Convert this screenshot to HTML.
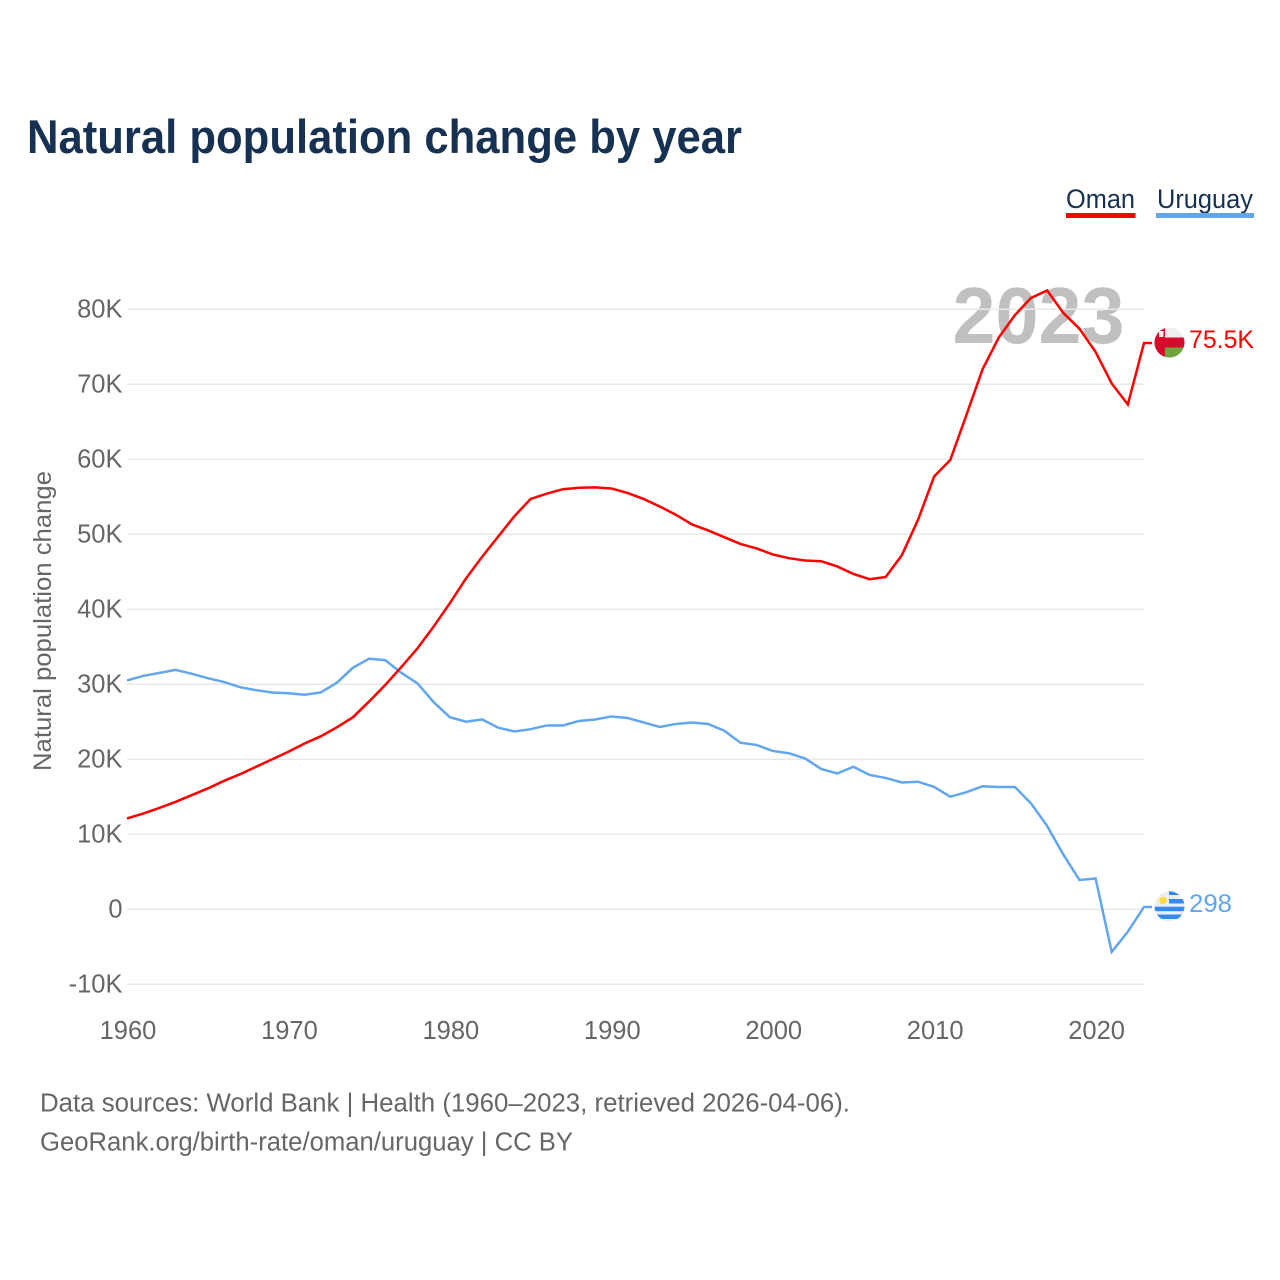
<!DOCTYPE html>
<html lang="en">
<head>
<meta charset="utf-8">
<title>Natural population change by year</title>
<style>
html,body{margin:0;padding:0;background:#fff;width:1280px;height:1280px;overflow:hidden}
svg{display:block}
text{font-family:"Liberation Sans",sans-serif}
</style>
</head>
<body>
<svg id="chart" xmlns="http://www.w3.org/2000/svg" width="1280" height="1280" viewBox="0 0 1280 1280">
  <defs>
    <clipPath id="oman-clip"><circle cx="1169.5" cy="342.5" r="15"/></clipPath>
    <clipPath id="uruguay-clip"><circle cx="1169.5" cy="906.3" r="15"/></clipPath>
  </defs>
  <text x="27" y="153" font-size="47" font-weight="700" fill="#173153" textLength="715" lengthAdjust="spacingAndGlyphs">Natural population change by year</text>

  <g>
    <text x="1066" y="208" font-size="27" fill="#173153" textLength="69" lengthAdjust="spacingAndGlyphs">Oman</text>
    <rect x="1066" y="213" width="69.5" height="5" fill="#ff0000"/>
  </g>
  <g>
    <text x="1157" y="208" font-size="27" fill="#173153" textLength="96" lengthAdjust="spacingAndGlyphs">Uruguay</text>
    <rect x="1156" y="213" width="98" height="5" fill="#62a6ee"/>
  </g>

  <text transform="translate(51,771) rotate(-90)" font-size="25" fill="#666666" textLength="300" lengthAdjust="spacingAndGlyphs">Natural population change</text>

  <text x="1038.5" y="343" font-size="80" font-weight="700" fill="#c0c0c0" text-anchor="middle" textLength="172" lengthAdjust="spacingAndGlyphs">2023</text>

  <g id="grid"></g>
  <g id="y-ticks"></g>
  <g id="x-ticks"></g>

  <g id="series"></g>

  <g clip-path="url(#oman-clip)">
    <rect x="1154" y="327" width="31" height="31" fill="#eeeeee"/>
    <rect x="1154" y="337.5" width="31" height="10" fill="#d60a2b"/>
    <rect x="1154" y="347.5" width="31" height="11" fill="#6fa53f"/>
    <rect x="1154" y="327" width="11" height="31" fill="#d60a2b"/>
    <rect x="1159" y="331" width="4.5" height="6" fill="#eeeeee"/>
  </g>
  <text x="1189" y="348" font-size="25" fill="#ff0000" textLength="65" lengthAdjust="spacingAndGlyphs">75.5K</text>

  <g clip-path="url(#uruguay-clip)">
    <rect x="1154" y="890" width="31" height="32" fill="#eeeeee"/>
    <rect x="1169" y="891" width="16" height="4" fill="#338af3"/>
    <rect x="1169" y="899" width="16" height="4.5" fill="#338af3"/>
    <rect x="1154" y="906.7" width="31" height="4.5" fill="#338af3"/>
    <rect x="1154" y="914.5" width="31" height="4.5" fill="#338af3"/>
    <circle cx="1163" cy="900.5" r="3.8" fill="#ffda44"/>
  </g>
  <text x="1189" y="912" font-size="25" fill="#62a6ee" textLength="43" lengthAdjust="spacingAndGlyphs">298</text>

  <text x="40" y="1111.5" font-size="25.5" fill="#666666" textLength="810" lengthAdjust="spacingAndGlyphs">Data sources: World Bank | Health (1960–2023, retrieved 2026-04-06).</text>
  <text x="40" y="1150.5" font-size="25.5" fill="#666666" textLength="533" lengthAdjust="spacingAndGlyphs">GeoRank.org/birth-rate/oman/uruguay | CC BY</text>
</svg>
<script>
const startYear = 1960;
const omanValues = [12.1,12.75,13.5,14.3,15.2,16.1,17.1,18.0,19.0,20.0,21.0,22.1,23.05,24.25,25.6,27.7,29.9,32.3,34.8,37.7,40.8,44.1,47.0,49.7,52.4,54.7,55.4,56.0,56.2,56.25,56.1,55.5,54.7,53.7,52.6,51.3,50.5,49.6,48.7,48.1,47.3,46.8,46.5,46.4,45.7,44.7,44.0,44.3,47.2,51.9,57.7,59.9,65.9,72.0,76.2,79.2,81.5,82.5,79.5,77.4,74.3,70.1,67.3,75.5];
const uruguayValues = [30.5,31.1,31.5,31.9,31.4,30.8,30.3,29.6,29.2,28.9,28.8,28.6,28.9,30.2,32.2,33.4,33.2,31.5,30.1,27.6,25.6,25.0,25.3,24.2,23.7,24.0,24.5,24.5,25.1,25.3,25.7,25.5,24.9,24.3,24.7,24.9,24.7,23.8,22.2,21.9,21.1,20.8,20.1,18.7,18.1,19.0,17.9,17.5,16.9,17.0,16.3,15.0,15.6,16.4,16.3,16.3,14.1,11.1,7.3,3.9,4.1,-5.7,-3.0,0.298];
const yTickValues = [80,70,60,50,40,30,20,10,0,-10];
const yTickLabels = ['80K','70K','60K','50K','40K','30K','20K','10K','0','-10K'];
const xTickYears = [1960,1970,1980,1990,2000,2010,2020];

const NS = 'http://www.w3.org/2000/svg';
function xScale(year){ return 127 + (year - 1960) * 16.143; }
function yScale(k){ return 909.2 - k * 7.5; }

const grid = document.getElementById('grid');
const yTicks = document.getElementById('y-ticks');
yTickValues.forEach(function(v, i){
  const line = document.createElementNS(NS, 'line');
  
  
  line.setAttribute('x1', 127);
  line.setAttribute('x2', 1144);
  line.setAttribute('y1', yScale(v));
  line.setAttribute('y2', yScale(v));
  line.setAttribute('stroke', '#e8e8e8');
  line.setAttribute('stroke-width', '1.5');
  grid.appendChild(line);
  const t = document.createElementNS(NS, 'text');
  
  
  t.setAttribute('x', 122.5);
  t.setAttribute('y', yScale(v) + 8.5);
  t.setAttribute('font-size', '25.5');
  t.setAttribute('fill', '#666666');
  t.setAttribute('text-anchor', 'end');
  t.textContent = yTickLabels[i];
  yTicks.appendChild(t);
});

const xTicks = document.getElementById('x-ticks');
xTickYears.forEach(function(y){
  const t = document.createElementNS(NS, 'text');
  
  
  t.setAttribute('x', xScale(y) + 1);
  t.setAttribute('y', 1039);
  t.setAttribute('font-size', '25.5');
  t.setAttribute('fill', '#666666');
  t.setAttribute('text-anchor', 'middle');
  t.textContent = String(y);
  xTicks.appendChild(t);
});

const seriesGroup = document.getElementById('series');
function drawSeries(values, color, name){
  let d = values.map(function(v, i){
    return (i ? 'L' : 'M') + xScale(startYear + i).toFixed(2) + ' ' + yScale(v).toFixed(2);
  }).join(' ');
  d += ' H 1152';
  const p = document.createElementNS(NS, 'path');
  
  
  p.setAttribute('d', d);
  p.setAttribute('fill', 'none');
  p.setAttribute('stroke', color);
  p.setAttribute('stroke-width', '2.5');
  p.setAttribute('stroke-linejoin', 'miter');
  seriesGroup.appendChild(p);
}
drawSeries(uruguayValues, '#62a6ee', 'uruguay-line');
drawSeries(omanValues, '#ff0000', 'oman-line');
</script>
</body>
</html>
